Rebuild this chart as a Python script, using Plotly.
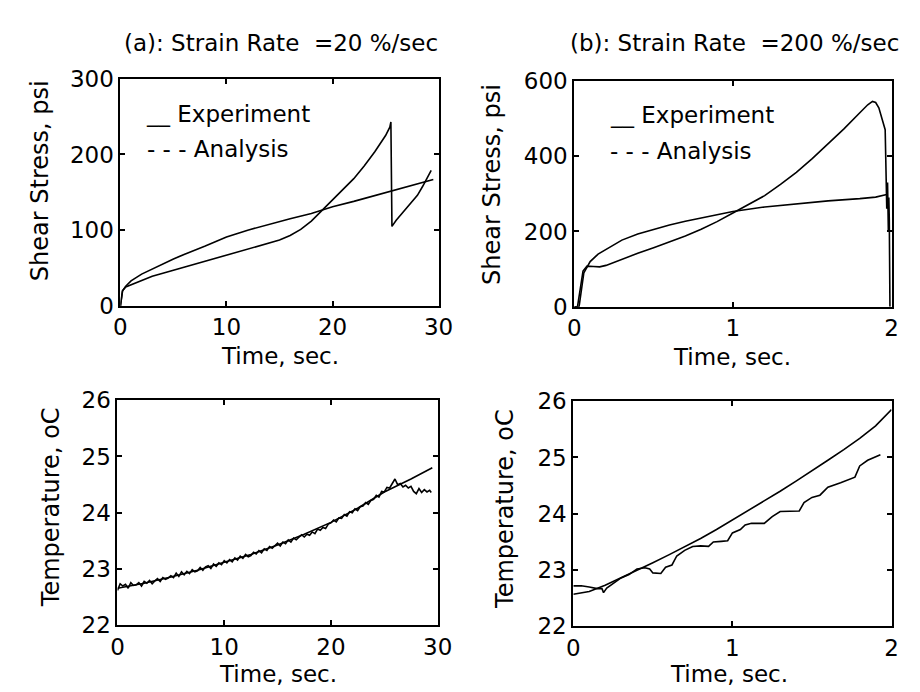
import plotly.graph_objects as go

# ---------------- data ----------------
# (a) shear stress, 20 %/sec
a_exp_t = [0, 0.2, 0.5, 1, 2, 3, 4, 5, 6, 7, 8, 9, 10, 11, 12, 13, 14, 15, 16, 17, 18, 19, 20,
           21, 22, 23, 24, 25, 25.4, 25.5, 25.6, 26, 27, 28, 28.5, 29.3]
a_exp_v = [0, 20, 25, 28, 34, 39, 43, 47, 51, 55, 59, 63, 68, 72, 75, 79, 83, 87, 93, 101, 112, 126, 140,
           153, 168, 185, 204, 225, 236, 243, 105, 113, 129, 146, 158, 179]
a_ana_t = [0, 0.2, 0.5, 1, 2, 3, 4, 5, 6, 7, 8, 9, 10, 12, 14, 16, 18, 20, 22, 24, 26, 28, 29.5]
a_ana_v = [0, 20, 26, 33, 42, 49, 56, 62, 68, 73, 79, 85, 91, 100, 108, 115, 122, 131, 138, 146, 153, 161, 167]

# (b) shear stress, 200 %/sec
b_exp_t = [0, 0.02, 0.055, 0.08, 0.12, 0.16, 0.2, 0.25, 0.3, 0.4, 0.5, 0.6, 0.7, 0.8, 0.9, 1.0, 1.1,
           1.2, 1.3, 1.4, 1.5, 1.6, 1.7, 1.8, 1.85, 1.88, 1.9, 1.92, 1.95, 1.96, 1.97, 1.975, 1.98,
           1.983, 1.986, 1.99]
b_exp_v = [0, 0, 95, 108, 107, 106, 110, 118, 128, 142, 157, 172, 188, 206, 226, 249, 272,
           295, 325, 357, 393, 432, 472, 515, 536, 545, 542, 528, 488, 470, 260, 330, 200,
           290, 230, 0]
b_ana_t = [0, 0.03, 0.06, 0.1, 0.15, 0.2, 0.3, 0.4, 0.5, 0.6, 0.7, 0.8, 0.9, 1.0, 1.2, 1.4, 1.6,
           1.8, 1.9, 1.97]
b_ana_v = [0, 0, 90, 120, 140, 153, 177, 193, 206, 217, 227, 236, 244, 253, 265, 274, 281,
           287, 291, 298]

# (a) temperature, 20 %/sec
c_exp_t = [0.00, 0.25, 0.50, 0.75, 1.00, 1.25, 1.50, 1.75, 2.00, 2.25, 2.50, 2.75, 3.00, 3.25,
           3.50, 3.75, 4.00, 4.25, 4.50, 4.75, 5.00, 5.25, 5.50, 5.75, 6.00, 6.25, 6.50, 6.75,
           7.00, 7.25, 7.50, 7.75, 8.00, 8.25, 8.50, 8.75, 9.00, 9.25, 9.50, 9.75, 10.00, 10.25,
           10.50, 10.75, 11.00, 11.25, 11.50, 11.75, 12.00, 12.25, 12.50, 12.75, 13.00, 13.25,
           13.50, 13.75, 14.00, 14.25, 14.50, 14.75, 15.00, 15.25, 15.50, 15.75, 16.00, 16.25,
           16.50, 16.75, 17.00, 17.25, 17.50, 17.75, 18.00, 18.25, 18.50, 18.75, 19.00, 19.25,
           19.50, 19.75, 20.00, 20.25, 20.50, 20.75, 21.00, 21.25, 21.50, 21.75, 22.00, 22.25,
           22.50, 22.75, 23.00, 23.25, 23.50, 23.75, 24.00, 24.25, 24.50, 24.75, 25.00, 25.25,
           25.50, 25.75, 26.00, 26.25, 26.50, 26.75, 27.00, 27.25, 27.50, 27.75, 28.00, 28.25,
           28.50, 28.75, 29.00, 29.25, 29.40]
c_exp_v = [22.62, 22.74, 22.70, 22.73, 22.66, 22.76, 22.71, 22.72, 22.76, 22.70, 22.78, 22.75,
           22.80, 22.74, 22.79, 22.83, 22.78, 22.85, 22.82, 22.84, 22.88, 22.85, 22.93, 22.87,
           22.95, 22.90, 22.96, 22.92, 22.99, 22.95, 22.97, 23.03, 22.98, 23.04, 23.06, 23.01,
           23.09, 23.05, 23.11, 23.08, 23.15, 23.11, 23.17, 23.13, 23.20, 23.16, 23.23, 23.19,
           23.26, 23.22, 23.24, 23.30, 23.27, 23.33, 23.29, 23.36, 23.33, 23.40, 23.37, 23.42,
           23.46, 23.41, 23.48, 23.45, 23.52, 23.48, 23.55, 23.52, 23.56, 23.61, 23.57, 23.62,
           23.60, 23.66, 23.63, 23.71, 23.69, 23.74, 23.72, 23.80, 23.82, 23.87, 23.84, 23.91,
           23.90, 23.97, 23.94, 24.02, 24.00, 24.07, 24.04, 24.11, 24.12, 24.18, 24.15, 24.22,
           24.24, 24.31, 24.28, 24.38, 24.37, 24.45, 24.44, 24.53, 24.60, 24.50, 24.52, 24.46,
           24.49, 24.44, 24.47, 24.38, 24.34, 24.43, 24.36, 24.41, 24.37, 24.40, 24.36]
c_ana_t = [0, 2.5, 5, 7.5, 10, 12.5, 15, 17.5, 20, 22.5, 25, 27.5, 29.5]
c_ana_v = [22.66, 22.75, 22.86, 22.98, 23.12, 23.26, 23.43, 23.62, 23.83, 24.08, 24.37, 24.60, 24.80]

# (b) temperature, 200 %/sec
d_exp_t = [0, 0.05, 0.1, 0.15, 0.18, 0.19, 0.21, 0.25, 0.3, 0.35, 0.4, 0.45, 0.48, 0.5, 0.55,
           0.58, 0.62, 0.65, 0.7, 0.75, 0.8, 0.85, 0.88, 0.93, 0.97, 1.0, 1.05, 1.08, 1.12, 1.2,
           1.25, 1.3, 1.42, 1.45, 1.5, 1.55, 1.6, 1.68, 1.72, 1.77, 1.8, 1.85, 1.93]
d_exp_v = [22.72, 22.72, 22.70, 22.67, 22.67, 22.60, 22.68, 22.76, 22.86, 22.92, 23.02, 23.04,
           23.02, 22.95, 22.94, 23.05, 23.09, 23.25, 23.35, 23.42, 23.43, 23.42, 23.50, 23.51,
           23.52, 23.66, 23.72, 23.80, 23.83, 23.83, 23.95, 24.04, 24.05, 24.20, 24.29, 24.33,
           24.47, 24.55, 24.60, 24.65, 24.85, 24.95, 25.05]
d_ana_t = [0, 0.1, 0.2, 0.3, 0.4, 0.5, 0.6, 0.7, 0.8, 0.9, 1.0, 1.1, 1.2, 1.3, 1.4, 1.5, 1.6,
           1.7, 1.8, 1.9, 2.0]
d_ana_v = [22.57, 22.62, 22.73, 22.86, 23.00, 23.13, 23.27, 23.41, 23.56, 23.72, 23.89, 24.05,
           24.22, 24.40, 24.58, 24.76, 24.95, 25.14, 25.34, 25.56, 25.85]

# ---------------- figure ----------------
W, H = 920, 692
FONT = "DejaVu Sans"
fig = go.Figure()

line = dict(color="black", width=1.6)
panels = [
    ("x", "y", a_exp_t, a_exp_v, a_ana_t, a_ana_v),
    ("x2", "y2", b_exp_t, b_exp_v, b_ana_t, b_ana_v),
    ("x3", "y3", c_exp_t, c_exp_v, c_ana_t, c_ana_v),
    ("x4", "y4", d_exp_t, d_exp_v, d_ana_t, d_ana_v),
]
for xa, ya, et, ev, at, av in panels:
    fig.add_trace(go.Scatter(x=at, y=av, mode="lines", line=line, xaxis=xa, yaxis=ya,
                             name="Analysis", showlegend=False))
    fig.add_trace(go.Scatter(x=et, y=ev, mode="lines", line=line, xaxis=xa, yaxis=ya,
                             name="Experiment", showlegend=False))


def px(x):
    return x / W


def py(y):
    return 1 - y / H


axis_common = dict(
    showline=True, mirror="ticks", linecolor="black", linewidth=2,
    ticks="inside", ticklen=5, tickwidth=1.5, tickcolor="black",
    showgrid=False, zeroline=False,
    tickfont=dict(family=FONT, size=23, color="black"),
)

fig.update_layout(
    width=W, height=H,
    margin=dict(l=0, r=0, t=0, b=0),
    paper_bgcolor="white", plot_bgcolor="white",
    font=dict(family=FONT, color="black"),
    xaxis=dict(domain=[px(108), px(434)], range=[0, 30], tickvals=[0, 10, 20, 30], anchor="y", **axis_common),
    yaxis=dict(domain=[py(296), py(60)], range=[0, 300], tickvals=[0, 100, 200, 300], anchor="x", **axis_common),
    xaxis2=dict(domain=[px(573), px(898)], range=[0, 2], tickvals=[0, 1, 2], anchor="y2", **axis_common),
    yaxis2=dict(domain=[py(297), py(62)], range=[0, 600], tickvals=[0, 200, 400, 600], anchor="x2", **axis_common),
    xaxis3=dict(domain=[px(105), px(433)], range=[0, 30], tickvals=[0, 10, 20, 30], anchor="y3", **axis_common),
    yaxis3=dict(domain=[py(628), py(394)], range=[22, 26], tickvals=[22, 23, 24, 25, 26], anchor="x3", **axis_common),
    xaxis4=dict(domain=[px(572), px(898)], range=[0, 2], tickvals=[0, 1, 2], anchor="y4", **axis_common),
    yaxis4=dict(domain=[py(629), py(395)], range=[22, 26], tickvals=[22, 23, 24, 25, 26], anchor="x4", **axis_common),
)

ann = []


def text(s, x, y, size=24, angle=0, xanchor="center"):
    ann.append(dict(text=s, x=px(x), y=py(y), xref="paper", yref="paper", showarrow=False,
                    xanchor=xanchor, yanchor="middle", textangle=angle,
                    font=dict(family=FONT, size=size, color="black")))


text("(a): Strain Rate  =20 %/sec", 273, 23, size=23)
text("(b): Strain Rate  =200 %/sec", 737, 23, size=23)
text("Shear Stress, psi", 25, 166, angle=-90)
text("Shear Stress, psi", 488, 170, angle=-90)
text("Temperature, oC", 37, 505, angle=-90)
text("Temperature, oC", 502, 507, angle=-90)
text("Time, sec.", 272, 348, size=23)
text("Time, sec.", 735, 349, size=23)
text("Time, sec.", 269, 678, size=23)
text("Time, sec.", 732, 678, size=23)
# legends
text("__ Experiment", 132, 97, size=23, xanchor="left")
text("- - - Analysis", 133, 133, size=23, xanchor="left")
text("__ Experiment", 608, 98, size=23, xanchor="left")
text("- - - Analysis", 608, 135, size=23, xanchor="left")

fig.update_layout(annotations=ann)
fig.write_html("out.html")
